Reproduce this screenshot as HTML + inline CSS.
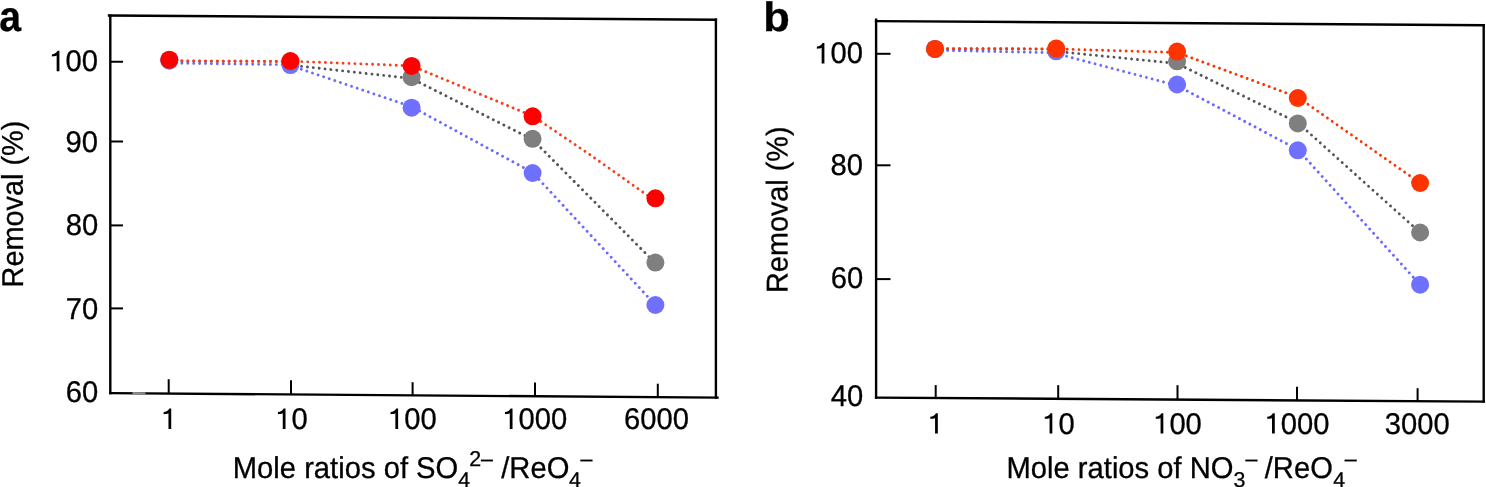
<!DOCTYPE html>
<html><head><meta charset="utf-8"><style>
html,body{margin:0;padding:0;background:#fff;}
svg{display:block;filter:blur(0.4px);}
text{font-family:"Liberation Sans",sans-serif;fill:#000;stroke:#000;stroke-width:0.3px;}
</style></head><body>
<svg width="1486" height="487" viewBox="0 0 1486 487">
<rect width="1486" height="487" fill="#fff"/>
<g stroke="#000" stroke-width="2.4" fill="none" stroke-linecap="square">
<line x1="110.3" y1="15.6" x2="110.3" y2="393.1"/>
<line x1="109" y1="15.5" x2="715.9" y2="19.7"/>
<line x1="715.9" y1="19.7" x2="715.9" y2="397.6"/>
<line x1="110.3" y1="393.1" x2="717.5" y2="397.6"/>
<line x1="876.1" y1="19.6" x2="876.1" y2="397.6"/>
<line x1="876.1" y1="21.1" x2="1483.7" y2="25.2"/>
<line x1="1483.7" y1="25.2" x2="1483.7" y2="401.6"/>
<line x1="876.1" y1="397.6" x2="1483.7" y2="401.6"/>
</g>
<line x1="132.5" y1="393.3" x2="145.5" y2="393.4" stroke="#8c8c8c" stroke-width="2.4"/>
<g stroke="#000" stroke-width="2" fill="none">
<line x1="110" y1="61.75" x2="123" y2="61.75"/>
<line x1="110" y1="141.5" x2="123" y2="141.5"/>
<line x1="110" y1="225.4" x2="123" y2="225.4"/>
<line x1="110" y1="308.4" x2="123" y2="308.4"/>
<line x1="168.7" y1="379.2" x2="168.7" y2="394"/>
<line x1="291" y1="380.2" x2="291" y2="395"/>
<line x1="412.6" y1="382.2" x2="412.6" y2="396"/>
<line x1="535" y1="382.5" x2="535" y2="396.5"/>
<line x1="657.8" y1="383.7" x2="657.8" y2="397"/>
<line x1="876" y1="53.8" x2="890.5" y2="53.8"/>
<line x1="876" y1="165.3" x2="890.5" y2="165.3"/>
<line x1="876" y1="279.1" x2="890.5" y2="279.1"/>
<line x1="935.7" y1="385.1" x2="935.7" y2="398"/>
<line x1="1058.2" y1="385.2" x2="1058.2" y2="399"/>
<line x1="1177.5" y1="385.2" x2="1177.5" y2="399.5"/>
<line x1="1297" y1="386.8" x2="1297" y2="400"/>
<line x1="1417.6" y1="388.2" x2="1417.6" y2="400.5"/>
</g>
<polyline points="169.3,63.0 290.4,64.8" fill="none" stroke="#6a6aff" stroke-width="2.9" stroke-dasharray="0.01 5.89" stroke-dashoffset="5.09" stroke-linecap="round" stroke-linejoin="round"/>
<polyline points="290.4,65.5 411.6,106.7" fill="none" stroke="#6a6aff" stroke-width="2.9" stroke-dasharray="0.01 5.89" stroke-dashoffset="0.29" stroke-linecap="round" stroke-linejoin="round"/>
<polyline points="411.6,106.7 532.6,172.5" fill="none" stroke="#6a6aff" stroke-width="2.9" stroke-dasharray="0.01 5.89" stroke-dashoffset="2.65" stroke-linecap="round" stroke-linejoin="round"/>
<polyline points="532.6,172.5 655.4,305.0" fill="none" stroke="#6a6aff" stroke-width="2.9" stroke-dasharray="0.01 5.89" stroke-dashoffset="2.41" stroke-linecap="round" stroke-linejoin="round"/>
<polyline points="169.3,61.0 290.4,61.5" fill="none" stroke="#555555" stroke-width="2.9" stroke-dasharray="0.01 5.89" stroke-dashoffset="5.10" stroke-linecap="round" stroke-linejoin="round"/>
<polyline points="290.4,65.1 411.6,78.5" fill="none" stroke="#555555" stroke-width="2.9" stroke-dasharray="0.01 5.89" stroke-dashoffset="0.58" stroke-linecap="round" stroke-linejoin="round"/>
<polyline points="411.6,78.5 532.6,139.5" fill="none" stroke="#555555" stroke-width="2.9" stroke-dasharray="0.01 5.89" stroke-dashoffset="2.89" stroke-linecap="round" stroke-linejoin="round"/>
<polyline points="532.6,139.5 655.4,263.2" fill="none" stroke="#555555" stroke-width="2.9" stroke-dasharray="0.01 5.89" stroke-dashoffset="5.87" stroke-linecap="round" stroke-linejoin="round"/>
<polyline points="169.3,60.9 290.4,61.5" fill="none" stroke="#ff3c18" stroke-width="2.9" stroke-dasharray="0.01 5.89" stroke-dashoffset="5.10" stroke-linecap="round" stroke-linejoin="round"/>
<polyline points="290.4,61.2 411.6,65.8" fill="none" stroke="#ff3c18" stroke-width="2.9" stroke-dasharray="0.01 5.89" stroke-dashoffset="0.36" stroke-linecap="round" stroke-linejoin="round"/>
<polyline points="411.6,65.8 532.6,116.0" fill="none" stroke="#ff3c18" stroke-width="2.9" stroke-dasharray="0.01 5.89" stroke-dashoffset="2.27" stroke-linecap="round" stroke-linejoin="round"/>
<polyline points="532.6,115.9 588,153.3 655.4,201.0" fill="none" stroke="#ff3c18" stroke-width="2.9" stroke-dasharray="0.01 5.89" stroke-dashoffset="1.80" stroke-linecap="round" stroke-linejoin="round"/>
<circle cx="169.3" cy="60.7" r="9" fill="#7070ff"/>
<circle cx="290.4" cy="65.1" r="9" fill="#7070ff"/>
<circle cx="411.6" cy="107.7" r="9" fill="#7070ff"/>
<circle cx="532.6" cy="173.0" r="9" fill="#7070ff"/>
<circle cx="655.4" cy="305.0" r="9" fill="#7070ff"/>
<circle cx="169.3" cy="60.0" r="9" fill="#7f7f7f"/>
<circle cx="290.4" cy="61.5" r="9" fill="#7f7f7f"/>
<circle cx="411.6" cy="77.2" r="9" fill="#7f7f7f"/>
<circle cx="532.6" cy="138.8" r="9" fill="#7f7f7f"/>
<circle cx="655.4" cy="262.6" r="9" fill="#7f7f7f"/>
<circle cx="169.3" cy="59.7" r="9" fill="#ff0000"/>
<circle cx="290.4" cy="61.0" r="9" fill="#ff0000"/>
<circle cx="411.6" cy="65.9" r="9" fill="#ff0000"/>
<circle cx="532.6" cy="116.3" r="9" fill="#ff0000"/>
<circle cx="655.4" cy="198.3" r="9" fill="#ff0000"/>
<polyline points="935.0,50.2 1056.2,52.8" fill="none" stroke="#6a6aff" stroke-width="2.9" stroke-dasharray="0.01 5.89" stroke-dashoffset="5.09" stroke-linecap="round" stroke-linejoin="round"/>
<polyline points="1056.2,53.5 1177.1,85.6" fill="none" stroke="#6a6aff" stroke-width="2.9" stroke-dasharray="0.01 5.89" stroke-dashoffset="1.06" stroke-linecap="round" stroke-linejoin="round"/>
<polyline points="1177.1,85.6 1297.8,149.5" fill="none" stroke="#6a6aff" stroke-width="2.9" stroke-dasharray="0.01 5.89" stroke-dashoffset="0.28" stroke-linecap="round" stroke-linejoin="round"/>
<polyline points="1297.8,149.5 1420.1,284.7" fill="none" stroke="#6a6aff" stroke-width="2.9" stroke-dasharray="0.01 5.89" stroke-dashoffset="4.94" stroke-linecap="round" stroke-linejoin="round"/>
<polyline points="935.0,48.8 1056.2,49.2" fill="none" stroke="#555555" stroke-width="2.9" stroke-dasharray="0.01 5.89" stroke-dashoffset="5.10" stroke-linecap="round" stroke-linejoin="round"/>
<polyline points="1056.2,51.4 1177.1,63.5" fill="none" stroke="#555555" stroke-width="2.9" stroke-dasharray="0.01 5.89" stroke-dashoffset="0.94" stroke-linecap="round" stroke-linejoin="round"/>
<polyline points="1177.1,63.5 1297.8,122.7" fill="none" stroke="#555555" stroke-width="2.9" stroke-dasharray="0.01 5.89" stroke-dashoffset="2.75" stroke-linecap="round" stroke-linejoin="round"/>
<polyline points="1297.8,122.7 1420.1,232.5" fill="none" stroke="#555555" stroke-width="2.9" stroke-dasharray="0.01 5.89" stroke-dashoffset="5.21" stroke-linecap="round" stroke-linejoin="round"/>
<polyline points="935.0,48.6 1056.2,48.9" fill="none" stroke="#ff3300" stroke-width="2.9" stroke-dasharray="0.01 5.89" stroke-dashoffset="5.10" stroke-linecap="round" stroke-linejoin="round"/>
<polyline points="1056.2,48.9 1177.1,52.5" fill="none" stroke="#ff3300" stroke-width="2.9" stroke-dasharray="0.01 5.89" stroke-dashoffset="0.78" stroke-linecap="round" stroke-linejoin="round"/>
<polyline points="1177.1,52.5 1297.8,97.2" fill="none" stroke="#ff3300" stroke-width="2.9" stroke-dasharray="0.01 5.89" stroke-dashoffset="2.06" stroke-linecap="round" stroke-linejoin="round"/>
<polyline points="1297.8,97.2 1420.1,183.0" fill="none" stroke="#ff3300" stroke-width="2.9" stroke-dasharray="0.01 5.89" stroke-dashoffset="5.20" stroke-linecap="round" stroke-linejoin="round"/>
<circle cx="935.0" cy="48.9" r="9" fill="#7070ff"/>
<circle cx="1056.2" cy="51.3" r="9" fill="#7070ff"/>
<circle cx="1177.1" cy="84.5" r="9" fill="#7070ff"/>
<circle cx="1297.8" cy="150.3" r="9" fill="#7070ff"/>
<circle cx="1420.1" cy="284.7" r="9" fill="#7070ff"/>
<circle cx="935.0" cy="48.9" r="9" fill="#7f7f7f"/>
<circle cx="1056.2" cy="48.8" r="9" fill="#7f7f7f"/>
<circle cx="1177.1" cy="61.3" r="9" fill="#7f7f7f"/>
<circle cx="1297.8" cy="123.4" r="9" fill="#7f7f7f"/>
<circle cx="1420.1" cy="232.5" r="9" fill="#7f7f7f"/>
<circle cx="935.0" cy="48.9" r="9" fill="#ff3300"/>
<circle cx="1056.2" cy="48.6" r="9" fill="#ff3300"/>
<circle cx="1177.1" cy="51.6" r="9" fill="#ff3300"/>
<circle cx="1297.8" cy="98.0" r="9" fill="#ff3300"/>
<circle cx="1420.1" cy="183.0" r="9" fill="#ff3300"/>
<g transform="matrix(1,0,0.001,1,-0.25,0)">
<text x="-0.49" y="30.8" style="font-weight:bold;font-size:42.7px" textLength="21.8" lengthAdjust="spacingAndGlyphs">a</text>
<text x="763.5" y="30.7" style="font-weight:bold;font-size:41.1px" textLength="26.6" lengthAdjust="spacingAndGlyphs">b</text>
<text x="49.42" y="71.2" style="font-size:30.0px" textLength="48.72" lengthAdjust="spacingAndGlyphs"><tspan style="fill:none;stroke:none">1</tspan>00</text>
<path d="M0.285,0.70 L0.349,0.70 L0.349,0 L0.254,0 L0.254,0.535 C0.215,0.51 0.155,0.505 0.09,0.505 L0.09,0.575 C0.175,0.58 0.245,0.625 0.285,0.70 Z" transform="translate(49.42,71.2) scale(29.2,-29.2)"/>
<text x="65.66" y="151.7" style="font-size:30.0px" textLength="32.48" lengthAdjust="spacingAndGlyphs">90</text>
<text x="65.66" y="234.7" style="font-size:30.0px" textLength="32.48" lengthAdjust="spacingAndGlyphs">80</text>
<text x="65.66" y="319" style="font-size:30.0px" textLength="32.48" lengthAdjust="spacingAndGlyphs">70</text>
<text x="65.66" y="402.1" style="font-size:30.0px" textLength="32.48" lengthAdjust="spacingAndGlyphs">60</text>
<text x="814.42" y="63.4" style="font-size:30.0px" textLength="48.72" lengthAdjust="spacingAndGlyphs"><tspan style="fill:none;stroke:none">1</tspan>00</text>
<path d="M0.285,0.70 L0.349,0.70 L0.349,0 L0.254,0 L0.254,0.535 C0.215,0.51 0.155,0.505 0.09,0.505 L0.09,0.575 C0.175,0.58 0.245,0.625 0.285,0.70 Z" transform="translate(814.42,63.4) scale(29.2,-29.2)"/>
<text x="830.66" y="175.2" style="font-size:30.0px" textLength="32.48" lengthAdjust="spacingAndGlyphs">80</text>
<text x="830.66" y="288.4" style="font-size:30.0px" textLength="32.48" lengthAdjust="spacingAndGlyphs">60</text>
<text x="830.66" y="405.6" style="font-size:30.0px" textLength="32.48" lengthAdjust="spacingAndGlyphs">40</text>
<text x="160.87" y="428.9" style="font-size:30.0px" textLength="16.24" lengthAdjust="spacingAndGlyphs"><tspan style="fill:none;stroke:none">1</tspan></text>
<path d="M0.285,0.70 L0.349,0.70 L0.349,0 L0.254,0 L0.254,0.535 C0.215,0.51 0.155,0.505 0.09,0.505 L0.09,0.575 C0.175,0.58 0.245,0.625 0.285,0.70 Z" transform="translate(160.87,428.9) scale(29.2,-29.2)"/>
<text x="275.17" y="428.9" style="font-size:30.0px" textLength="32.48" lengthAdjust="spacingAndGlyphs"><tspan style="fill:none;stroke:none">1</tspan>0</text>
<path d="M0.285,0.70 L0.349,0.70 L0.349,0 L0.254,0 L0.254,0.535 C0.215,0.51 0.155,0.505 0.09,0.505 L0.09,0.575 C0.175,0.58 0.245,0.625 0.285,0.70 Z" transform="translate(275.17,428.9) scale(29.2,-29.2)"/>
<text x="387.77" y="428.9" style="font-size:30.0px" textLength="48.72" lengthAdjust="spacingAndGlyphs"><tspan style="fill:none;stroke:none">1</tspan>00</text>
<path d="M0.285,0.70 L0.349,0.70 L0.349,0 L0.254,0 L0.254,0.535 C0.215,0.51 0.155,0.505 0.09,0.505 L0.09,0.575 C0.175,0.58 0.245,0.625 0.285,0.70 Z" transform="translate(387.77,428.9) scale(29.2,-29.2)"/>
<text x="502.17" y="428.9" style="font-size:30.0px" textLength="64.96" lengthAdjust="spacingAndGlyphs"><tspan style="fill:none;stroke:none">1</tspan>000</text>
<path d="M0.285,0.70 L0.349,0.70 L0.349,0 L0.254,0 L0.254,0.535 C0.215,0.51 0.155,0.505 0.09,0.505 L0.09,0.575 C0.175,0.58 0.245,0.625 0.285,0.70 Z" transform="translate(502.17,428.9) scale(29.2,-29.2)"/>
<text x="623.82" y="428.9" style="font-size:30.0px" textLength="64.96" lengthAdjust="spacingAndGlyphs">6000</text>
<text x="927.47" y="433.6" style="font-size:30.0px" textLength="16.24" lengthAdjust="spacingAndGlyphs"><tspan style="fill:none;stroke:none">1</tspan></text>
<path d="M0.285,0.70 L0.349,0.70 L0.349,0 L0.254,0 L0.254,0.535 C0.215,0.51 0.155,0.505 0.09,0.505 L0.09,0.575 C0.175,0.58 0.245,0.625 0.285,0.70 Z" transform="translate(927.47,433.6) scale(29.2,-29.2)"/>
<text x="1041.97" y="433.6" style="font-size:30.0px" textLength="32.48" lengthAdjust="spacingAndGlyphs"><tspan style="fill:none;stroke:none">1</tspan>0</text>
<path d="M0.285,0.70 L0.349,0.70 L0.349,0 L0.254,0 L0.254,0.535 C0.215,0.51 0.155,0.505 0.09,0.505 L0.09,0.575 C0.175,0.58 0.245,0.625 0.285,0.70 Z" transform="translate(1041.97,433.6) scale(29.2,-29.2)"/>
<text x="1152.97" y="433.6" style="font-size:30.0px" textLength="48.72" lengthAdjust="spacingAndGlyphs"><tspan style="fill:none;stroke:none">1</tspan>00</text>
<path d="M0.285,0.70 L0.349,0.70 L0.349,0 L0.254,0 L0.254,0.535 C0.215,0.51 0.155,0.505 0.09,0.505 L0.09,0.575 C0.175,0.58 0.245,0.625 0.285,0.70 Z" transform="translate(1152.97,433.6) scale(29.2,-29.2)"/>
<text x="1264.42" y="433.6" style="font-size:30.0px" textLength="64.96" lengthAdjust="spacingAndGlyphs"><tspan style="fill:none;stroke:none">1</tspan>000</text>
<path d="M0.285,0.70 L0.349,0.70 L0.349,0 L0.254,0 L0.254,0.535 C0.215,0.51 0.155,0.505 0.09,0.505 L0.09,0.575 C0.175,0.58 0.245,0.625 0.285,0.70 Z" transform="translate(1264.42,433.6) scale(29.2,-29.2)"/>
<text x="1384.69" y="433.6" style="font-size:30.0px" textLength="64.96" lengthAdjust="spacingAndGlyphs">3000</text>
<text transform="translate(22.9,287.47) rotate(-90)" style="font-size:30.0px" textLength="166.86" lengthAdjust="spacingAndGlyphs">Removal (%)</text>
<text transform="translate(787.5,292.96) rotate(-90)" style="font-size:30.0px" textLength="166.55" lengthAdjust="spacingAndGlyphs">Removal (%)</text>
<text x="232.5" y="478" style="font-size:30.0px" textLength="225.57" lengthAdjust="spacingAndGlyphs">Mole ratios of SO</text>
<text x="458" y="487.0" style="font-size:21.4px" textLength="11.90" lengthAdjust="spacingAndGlyphs">4</text>
<text x="469" y="465.9" style="font-size:21.4px" textLength="23.80" lengthAdjust="spacingAndGlyphs">2–</text>
<text x="501.0" y="478" style="font-size:30.0px" textLength="68.15" lengthAdjust="spacingAndGlyphs">/ReO</text>
<text x="568.8" y="487.0" style="font-size:21.4px" textLength="11.90" lengthAdjust="spacingAndGlyphs">4</text>
<text x="580.3" y="465.9" style="font-size:21.4px" textLength="11.90" lengthAdjust="spacingAndGlyphs">–</text>
<text x="1006.2" y="478" style="font-size:30.0px" textLength="227.18" lengthAdjust="spacingAndGlyphs">Mole ratios of NO</text>
<text x="1233.3" y="487.0" style="font-size:21.4px" textLength="11.90" lengthAdjust="spacingAndGlyphs">3</text>
<text x="1245.3" y="465.9" style="font-size:21.4px" textLength="11.90" lengthAdjust="spacingAndGlyphs">–</text>
<text x="1264.5" y="478" style="font-size:30.0px" textLength="68.15" lengthAdjust="spacingAndGlyphs">/ReO</text>
<text x="1333" y="487.0" style="font-size:21.4px" textLength="11.90" lengthAdjust="spacingAndGlyphs">4</text>
<text x="1344.5" y="465.9" style="font-size:21.4px" textLength="11.90" lengthAdjust="spacingAndGlyphs">–</text>
</g>
</svg>
</body></html>
